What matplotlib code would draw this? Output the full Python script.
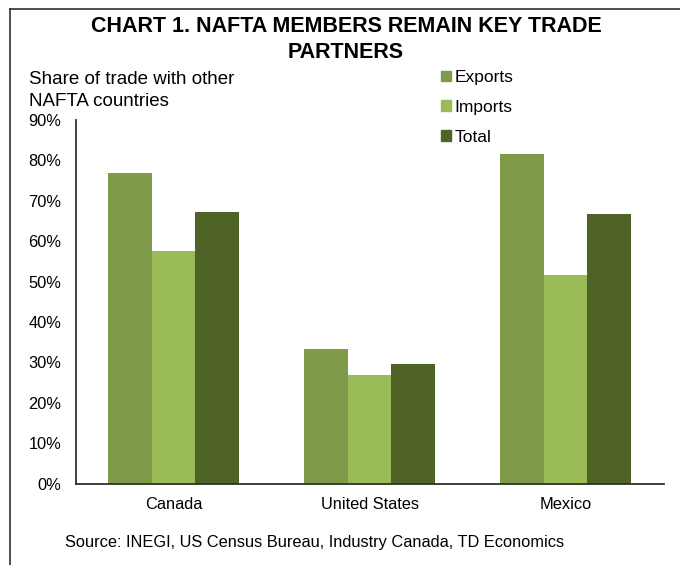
import numpy as np
import matplotlib.pyplot as plt
from matplotlib.lines import Line2D
from matplotlib.patches import Patch
from matplotlib.ticker import PercentFormatter

plt.rcParams['font.family'] = ['Liberation Sans', 'DejaVu Sans']

countries = ['Canada', 'United States', 'Mexico']
exports = [77.0, 33.2, 81.7]
imports = [57.6, 26.8, 51.7]
total = [67.3, 29.7, 66.8]

series = [('Exports', exports, '#7f9a48'),
          ('Imports', imports, '#9bbb59'),
          ('Total', total, '#4f6228')]

fig = plt.figure(figsize=(6.8, 5.65), dpi=100)
ax = fig.add_axes([0.1113, 0.1442, 0.8647, 0.6434])

x = np.arange(len(countries))
width = 0.2225
for i, (name, vals, color) in enumerate(series):
    ax.bar(x + (i - 1) * width, vals, width, color=color, label=name)

ax.set_xlim(-0.5, 2.5)
ax.set_ylim(0, 90)
ax.set_yticks(np.arange(0, 91, 10))
ax.yaxis.set_major_formatter(PercentFormatter(decimals=0))
ax.set_xticks(x)
ax.set_xticklabels(countries)
ax.tick_params(axis='both', length=0, labelsize=11.8)
ax.tick_params(axis='y', pad=10.5)
ax.tick_params(axis='x', pad=9.5)
for side in ['top', 'right']:
    ax.spines[side].set_visible(False)
for side in ['left', 'bottom']:
    ax.spines[side].set_color('#2e3326')
    ax.spines[side].set_linewidth(1.3)

# two-line bold heading
fig.text(0.509, 1 - 32.3 / 565, 'CHART 1. NAFTA MEMBERS REMAIN KEY TRADE',
         ha='center', va='baseline', fontsize=15.5, fontweight='bold')
fig.text(0.509, 1 - 57.8 / 565, 'PARTNERS',
         ha='center', va='baseline', fontsize=15.5, fontweight='bold')

fig.text(29 / 680, 1 - 83.5 / 565, 'Share of trade with other',
         ha='left', va='baseline', fontsize=13.5)
fig.text(29 / 680, 1 - 106.5 / 565, 'NAFTA countries',
         ha='left', va='baseline', fontsize=13.5)
fig.text(65 / 680, 1 - 547.3 / 565,
         'Source: INEGI, US Census Bureau, Industry Canada, TD Economics',
         ha='left', va='baseline', fontsize=11.75)

handles = [Patch(color=c, label=n) for n, _, c in series]
fig.legend(handles=handles, loc='upper left', bbox_to_anchor=(441 / 680, 0.876),
           frameon=False, fontsize=12.5, handlelength=0.58, handleheight=0.58,
           handletextpad=0.18, labelspacing=0.86, borderpad=0,
           borderaxespad=0)

# frame lines along the top and left edges
fig.add_artist(Line2D([9.7 / 680, 1.0], [1 - 9 / 565, 1 - 9 / 565],
                      transform=fig.transFigure, color='#2a3320', linewidth=1.2))
fig.add_artist(Line2D([9.7 / 680, 9.7 / 680], [0.0, 1 - 9 / 565],
                      transform=fig.transFigure, color='#2a3320', linewidth=1.2))

fig.savefig('out.png', dpi=100)
